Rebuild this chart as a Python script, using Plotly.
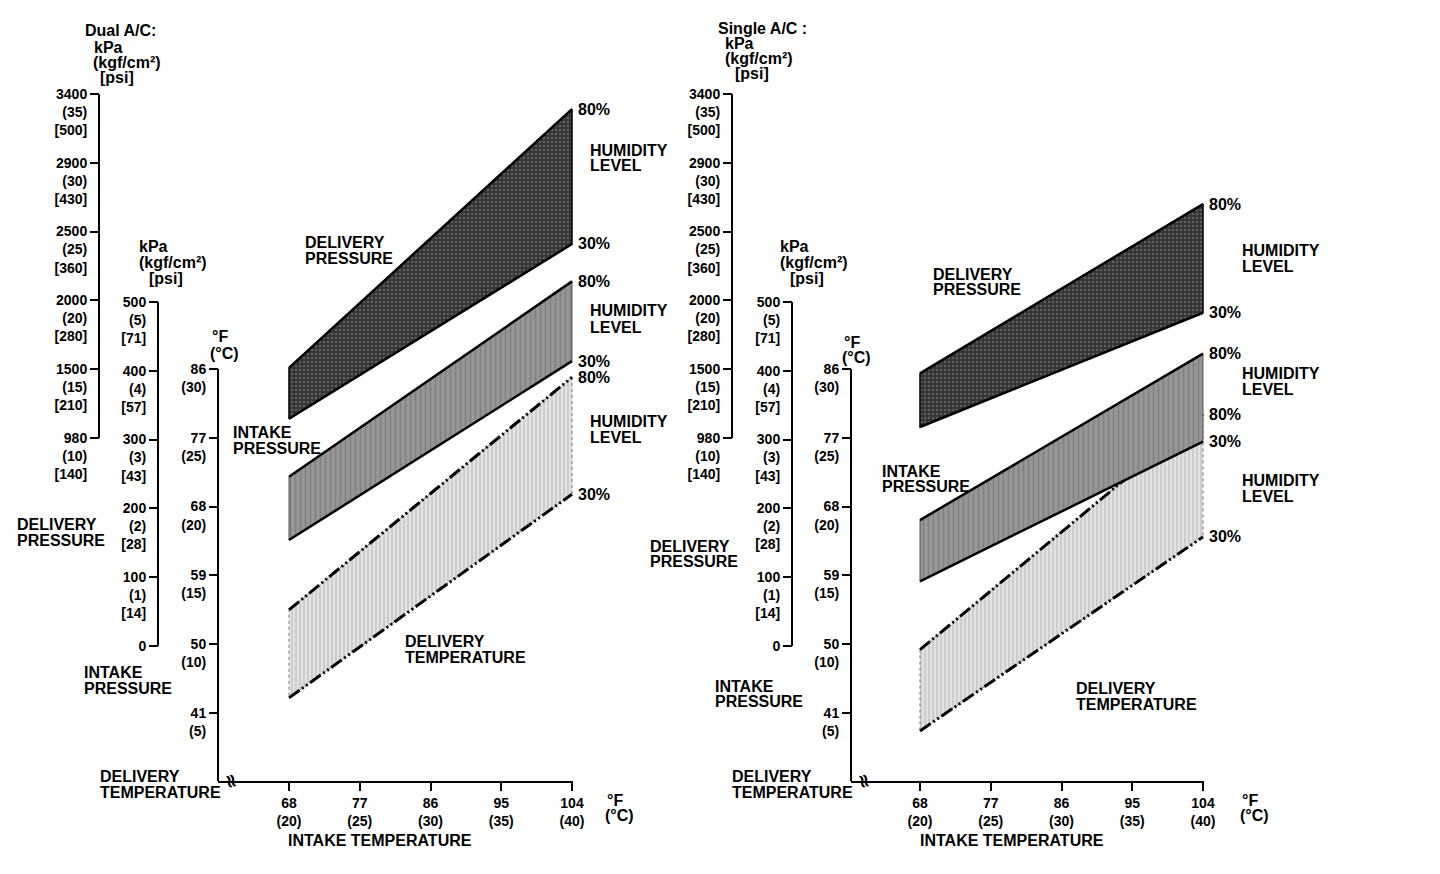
import plotly.graph_objects as go

W, H = 1440, 874
OFF = 8      # the page puts the figure 8 px in from the top-left corner

# ── Data ─────────────────────────────────────────────────────────────────────
# Every band is given by its value at the two ends of the intake-temperature
# range; the upper edge is the 80 % humidity line, the lower edge the 30 % one.
INTAKE_T_F = [68, 104]            # intake temperature (°F)

# Dual A/C
DUAL_DP_80 = [15.1, 33.9]         # delivery pressure (kgf/cm²)
DUAL_DP_30 = [11.4, 24.1]
DUAL_IP_80 = [2.46, 5.30]         # intake pressure (kgf/cm²)
DUAL_IP_30 = [1.54, 4.14]
DUAL_DT_80 = [12.5, 29.4]         # delivery temperature (°C)
DUAL_DT_30 = [6.1, 20.9]

# Single A/C
SINGLE_DP_80 = [14.7, 27.0]
SINGLE_DP_30 = [10.8, 19.1]
SINGLE_IP_80 = [1.83, 4.25]
SINGLE_IP_30 = [0.94, 2.97]
SINGLE_DT_80 = [9.6, 26.7]
SINGLE_DT_30 = [3.7, 17.8]

HUMIDITY = ["80%", "30%"]

# ── Tick labels ──────────────────────────────────────────────────────────────
X_TICKS = [68, 77, 86, 95, 104]
X_TICKTEXT = ["68<br>(20)", "77<br>(25)", "86<br>(30)", "95<br>(35)", "104<br>(40)"]

DP_TICKS = [10, 15, 20, 25, 30, 35]
DP_TICKTEXT = ["980<br>(10)<br>[140]", "1500<br>(15)<br>[210]", "2000<br>(20)<br>[280]",
               "2500<br>(25)<br>[360]", "2900<br>(30)<br>[430]", "3400<br>(35)<br>[500]"]

IP_TICKS = [0, 1, 2, 3, 4, 5]
IP_TICKTEXT = ["0<br>\u00a0<br>\u00a0", "100<br>(1)<br>[14]", "200<br>(2)<br>[28]",
               "300<br>(3)<br>[43]", "400<br>(4)<br>[57]", "500<br>(5)<br>[71]"]

DT_TICKS = [5, 10, 15, 20, 25, 30]
DT_TICKTEXT = ["41<br>(5)", "50<br>(10)", "59<br>(15)", "68<br>(20)", "77<br>(25)", "86<br>(30)"]

PANEL_DATA = [
    {"dp": (DUAL_DP_80, DUAL_DP_30), "ip": (DUAL_IP_80, DUAL_IP_30), "dt": (DUAL_DT_80, DUAL_DT_30)},
    {"dp": (SINGLE_DP_80, SINGLE_DP_30), "ip": (SINGLE_IP_80, SINGLE_IP_30), "dt": (SINGLE_DT_80, SINGLE_DT_30)},
]

# ── Geometry (screen pixels) ─────────────────────────────────────────────────
TOP, BOT = 88, 781          # vertical extent shared by the three scales
STEP = 68.8                 # pixels between neighbouring scale ticks

PANELS = [
    dict(dp=99, ip=158, dt=218, x68=289, x104=572, ids=("x", "y", "y2", "y3")),
    dict(dp=732, ip=792, dt=851, x68=920, x104=1203, ids=("x2", "y4", "y5", "y6")),
]

FAMILY = "Liberation Sans, Arial, Helvetica, sans-serif"
FONT = dict(family=FAMILY, size=16, color="black", weight="bold")
TICKFONT = dict(family=FAMILY, size=14, color="black", weight="bold")

STYLE = {
    "dp": dict(fill="#3e3e3e",
               pattern=dict(shape=".", bgcolor="#333333", fgcolor="#8c8c8c", size=4, solidity=0.35),
               side=dict(color="black", width=1.5),
               edge=dict(color="black", width=2.5)),
    "ip": dict(fill="#8e8e8e",
               pattern=dict(shape="|", bgcolor="#969696", fgcolor="#6a6a6a", size=5, solidity=0.3),
               side=dict(color="#555555", width=1),
               edge=dict(color="black", width=2.5)),
    "dt": dict(fill="#d4d4d4",
               pattern=dict(shape="|", bgcolor="#e2e2e2", fgcolor="#9a9a9a", size=4, solidity=0.3),
               side=dict(color="#777777", width=1, dash="dot"),
               edge=dict(color="black", width=3, dash="13px,3px,2px,3px,2px,3px")),
}

# free text: (text, x px, y px) – one entry per line
TEXTS = [
    ("Dual A/C:", 83, 31), ("kPa", 92, 47), ("(kgf/cm²)", 91, 62), ("[psi]", 98, 77),
    ("kPa", 137, 246), ("(kgf/cm²)", 137, 262), ("[psi]", 147, 278),
    ("°F", 210, 337), ("(°C)", 208, 353),
    ("DELIVERY", 15, 524), ("PRESSURE", 15, 540),
    ("INTAKE", 82, 672), ("PRESSURE", 82, 688),
    ("DELIVERY", 98, 776), ("TEMPERATURE", 98, 792),
    ("INTAKE TEMPERATURE", 286, 840),
    ("°F", 605, 800), ("(°C)", 603, 815),
    ("DELIVERY", 303, 242), ("PRESSURE", 303, 258),
    ("INTAKE", 231, 432), ("PRESSURE", 231, 448),
    ("DELIVERY", 403, 641), ("TEMPERATURE", 403, 657),
    ("HUMIDITY", 588, 150), ("LEVEL", 588, 166),
    ("HUMIDITY", 588, 311), ("LEVEL", 588, 327),
    ("HUMIDITY", 588, 421), ("LEVEL", 588, 437),

    ("Single A/C :", 716, 29), ("kPa", 723, 44), ("(kgf/cm²)", 723, 59), ("[psi]", 733, 74),
    ("kPa", 778, 246), ("(kgf/cm²)", 778, 262), ("[psi]", 788, 278),
    ("°F", 842, 342), ("(°C)", 840, 357),
    ("DELIVERY", 648, 546), ("PRESSURE", 648, 561),
    ("INTAKE", 713, 686), ("PRESSURE", 713, 701),
    ("DELIVERY", 730, 776), ("TEMPERATURE", 730, 792),
    ("INTAKE TEMPERATURE", 918, 840),
    ("°F", 1240, 800), ("(°C)", 1238, 815),
    ("DELIVERY", 931, 274), ("PRESSURE", 931, 290),
    ("INTAKE", 880, 471), ("PRESSURE", 880, 487),
    ("DELIVERY", 1074, 688), ("TEMPERATURE", 1074, 704),
    ("HUMIDITY", 1240, 250), ("LEVEL", 1240, 266),
    ("HUMIDITY", 1240, 373), ("LEVEL", 1240, 389),
    ("HUMIDITY", 1240, 480), ("LEVEL", 1240, 496),
]


def px(x):
    return (x - OFF) / W


def py(y):
    return 1 - (y - OFF) / H


def yrange(v0, p0, ppu):
    """axis range so that value v0 sits at pixel row p0 with ppu px per unit"""
    return [v0 - (BOT - p0) / ppu, v0 + (p0 - TOP) / ppu]


def lname(aid):
    return aid[0] + "axis" + aid[1:]


fig = go.Figure()
layout = {}
shapes = []
annotations = []

for pan, dat in zip(PANELS, PANEL_DATA):
    xid, yt, yd, yi = pan["ids"]
    yof = {"dt": yt, "dp": yd, "ip": yi}

    # band fills
    for key in ("dp", "ip", "dt"):
        hi, lo = dat[key]
        st = STYLE[key]
        fig.add_trace(go.Scatter(
            x=INTAKE_T_F + INTAKE_T_F[::-1] + INTAKE_T_F[:1],
            y=hi + lo[::-1] + hi[:1],
            xaxis=xid, yaxis=yof[key], mode="lines", fill="toself",
            fillcolor=st["fill"], fillpattern=st["pattern"], line=st["side"],
            hoverinfo="skip", showlegend=False,
        ))

    # humidity edges + their labels
    for key in ("dp", "ip", "dt"):
        for vals, pct in zip(dat[key], HUMIDITY):
            fig.add_trace(go.Scatter(
                x=INTAKE_T_F, y=vals, xaxis=xid, yaxis=yof[key],
                mode="lines", line=STYLE[key]["edge"],
                hoverinfo="skip", showlegend=False,
            ))
            annotations.append(dict(
                x=INTAKE_T_F[-1], y=vals[-1], xref=xid, yref=yof[key],
                text=pct, showarrow=False, xanchor="left", yanchor="middle",
                xshift=4, font=FONT,
            ))

    # axes
    ppx = (pan["x104"] - pan["x68"]) / 36.0
    dt_rng = yrange(30, 369, STEP / 5)
    common = dict(ticks="outside", ticklen=9, tickwidth=2, tickcolor="black",
                  showgrid=False, zeroline=False, showline=False, automargin=False,
                  tickfont=TICKFONT, anchor="free", fixedrange=True)
    layout[lname(xid)] = dict(
        domain=[px(pan["dt"]), px(pan["x104"] + 1)],
        range=[68 - (pan["x68"] - pan["dt"]) / ppx, 104 + 1 / ppx],
        anchor=yt, tickvals=X_TICKS, ticktext=X_TICKTEXT,
        ticks="outside", ticklen=8, tickwidth=2, tickcolor="black",
        showline=True, linewidth=2, linecolor="black", automargin=False,
        showgrid=False, zeroline=False, tickfont=TICKFONT, fixedrange=True,
    )
    layout[lname(yt)] = dict(
        domain=[py(BOT), py(TOP)], range=dt_rng,
        position=px(pan["dt"]), tickvals=DT_TICKS, ticktext=DT_TICKTEXT,
        ticklabelshift=9, **common,
    )
    layout[lname(yd)] = dict(
        overlaying=yt, range=yrange(10, 438, STEP / 5),
        position=px(pan["dp"]), tickvals=DP_TICKS, ticktext=DP_TICKTEXT,
        ticklabelshift=18, **common,
    )
    layout[lname(yi)] = dict(
        overlaying=yt, range=yrange(0, 646, STEP),
        position=px(pan["ip"]), tickvals=IP_TICKS, ticktext=IP_TICKTEXT,
        ticklabelshift=18, **common,
    )

    # axis spines for the three vertical scales
    for xpos, yref, y0, y1 in ((pan["dp"], yd, DP_TICKS[0], DP_TICKS[-1]),
                               (pan["ip"], yi, IP_TICKS[0], IP_TICKS[-1]),
                               (pan["dt"], yt, dt_rng[0], DT_TICKS[-1])):
        shapes.append(dict(type="line", xref="paper", x0=px(xpos), x1=px(xpos),
                           yref=yref, y0=y0, y1=y1,
                           line=dict(color="black", width=2)))

    # axis break mark
    annotations.append(dict(x=px(pan["dt"] + 14), y=py(BOT), xref="paper", yref="paper",
                            xanchor="center", yanchor="middle",
                            text="≈", textangle=75, showarrow=False,
                            font=dict(family="DejaVu Sans", size=19, color="black")))

for text, xp, yp in TEXTS:
    annotations.append(dict(x=px(xp), y=py(yp), xref="paper", yref="paper",
                            text=text, showarrow=False, xanchor="left", yanchor="middle",
                            font=FONT))

fig.update_layout(
    width=W, height=H,
    margin=dict(l=0, r=0, t=0, b=0, pad=0, autoexpand=False),
    paper_bgcolor="white", plot_bgcolor="white",
    font=FONT, showlegend=False,
    shapes=shapes, annotations=annotations,
    **layout,
)

fig.write_html("out.html")
